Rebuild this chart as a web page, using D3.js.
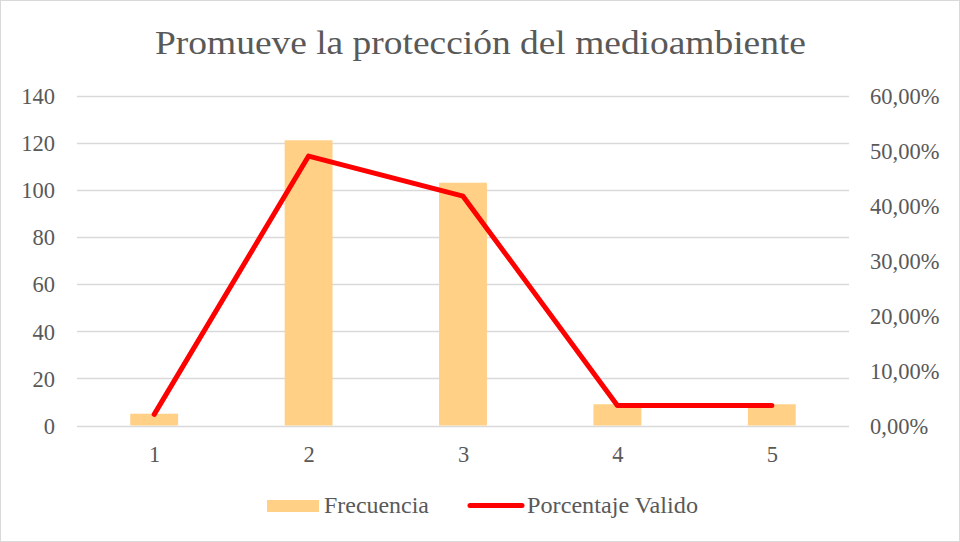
<!DOCTYPE html>
<html>
<head>
<meta charset="utf-8">
<script src="https://cdn.jsdelivr.net/npm/d3@7"></script>
<style>
  html, body { margin: 0; padding: 0; background: #fff; }
  svg { display: block; }
</style>
</head>
<body>
<svg id="chart" width="960" height="542"></svg>
<script>
// Frequency of answers per category and the valid percentage of each
const categories = ["1", "2", "3", "4", "5"];
const frecuencia = [5, 121, 103, 9, 9];
const porcentajeValido = [2.02, 48.99, 41.70, 3.64, 3.64];
const leftTicks = [0, 20, 40, 60, 80, 100, 120, 140];
const rightTicks = [0, 10, 20, 30, 40, 50, 60];

const FONT = "Liberation Serif";
const TXT = "#595959";

const svg = d3.select("#chart");
const W = 960, H = 542;
const plot = { left: 77, right: 849, top: 95.5, bottom: 425.5 };

// outer frame
svg.append("rect")
  .attr("x", 0.5).attr("y", 0.5)
  .attr("width", W - 1).attr("height", H - 1)
  .attr("fill", "#fff").attr("stroke", "#d9d9d9").attr("stroke-width", 1);

const x = d3.scaleBand().domain(categories).range([plot.left, plot.right]).paddingInner(0.69).paddingOuter(0.345);
const xc = d3.scalePoint().domain(categories).range([plot.left, plot.right]).padding(0.5);
const yL = d3.scaleLinear().domain([0, 140]).range([plot.bottom, plot.top]);
const yR = d3.scaleLinear().domain([0, 60]).range([plot.bottom, plot.top]);

function styleText(sel, size) {
  sel.attr("font-family", null)
     .style("font-family", FONT)
     .style("font-size", size + "px")
     .style("fill", TXT);
}

// title
svg.append("text")
  .attr("x", 480.5).attr("y", 53.5)
  .attr("text-anchor", "middle")
  .attr("textLength", 651)
  .attr("lengthAdjust", "spacingAndGlyphs")
  .call(styleText, 33)
  .text("Promueve la protección del medioambiente");

// gridlines
svg.append("g")
  .selectAll("line")
  .data(leftTicks)
  .join("line")
  .attr("x1", plot.left).attr("x2", plot.right)
  .attr("y1", d => Math.round(yL(d)) + 0.5).attr("y2", d => Math.round(yL(d)) + 0.5)
  .attr("stroke", "#d9d9d9").attr("stroke-width", 1.5);

// left axis
const axL = svg.append("g")
  .attr("transform", `translate(${plot.left - 22},0)`)
  .call(d3.axisLeft(yL).tickValues(leftTicks).tickSize(0).tickPadding(0));
axL.attr("font-family", null);
axL.select(".domain").remove();
axL.selectAll("text").call(styleText, 22.5).attr("dy", "0.35em");

// right axis
const fmtPct = d => d3.format(".2f")(d).replace(".", ",") + "%";
const axR = svg.append("g")
  .attr("transform", `translate(${plot.right + 21},0)`)
  .call(d3.axisRight(yR).tickValues(rightTicks).tickFormat(fmtPct).tickSize(0).tickPadding(0));
axR.attr("font-family", null);
axR.select(".domain").remove();
axR.selectAll("text").call(styleText, 22.5).attr("dy", "0.35em");

// bars
svg.append("g")
  .selectAll("rect")
  .data(frecuencia)
  .join("rect")
  .attr("x", (d, i) => x(categories[i]))
  .attr("width", x.bandwidth())
  .attr("y", d => yL(d))
  .attr("height", d => yL(0) - yL(d))
  .attr("fill", "#ffd086");

// x axis
const axX = svg.append("g")
  .attr("transform", `translate(0,${plot.bottom})`)
  .call(d3.axisBottom(xc).tickSize(0).tickPadding(0));
axX.attr("font-family", null);
axX.select(".domain").remove();
axX.selectAll("text").call(styleText, 22.5).attr("y", 36).attr("dy", 0);

// percentage line
const line = d3.line()
  .x((d, i) => xc(categories[i]))
  .y(d => yR(d));
svg.append("path")
  .datum(porcentajeValido)
  .attr("d", line)
  .attr("fill", "none")
  .attr("stroke", "#ff0000")
  .attr("stroke-width", 5)
  .attr("stroke-linejoin", "round")
  .attr("stroke-linecap", "round");

// legend
const lg = svg.append("g");
lg.append("rect").attr("x", 267).attr("y", 500).attr("width", 52).attr("height", 12).attr("fill", "#ffd086");
lg.append("text").attr("x", 324).attr("y", 513)
  .attr("textLength", 105).attr("lengthAdjust", "spacingAndGlyphs")
  .call(styleText, 22.5).text("Frecuencia");
lg.append("line").attr("x1", 470).attr("x2", 522).attr("y1", 505.5).attr("y2", 505.5)
  .attr("stroke", "#ff0000").attr("stroke-width", 5).attr("stroke-linecap", "round");
lg.append("text").attr("x", 527).attr("y", 513)
  .attr("textLength", 171).attr("lengthAdjust", "spacingAndGlyphs")
  .call(styleText, 22.5).text("Porcentaje Valido");
</script>
</body>
</html>
